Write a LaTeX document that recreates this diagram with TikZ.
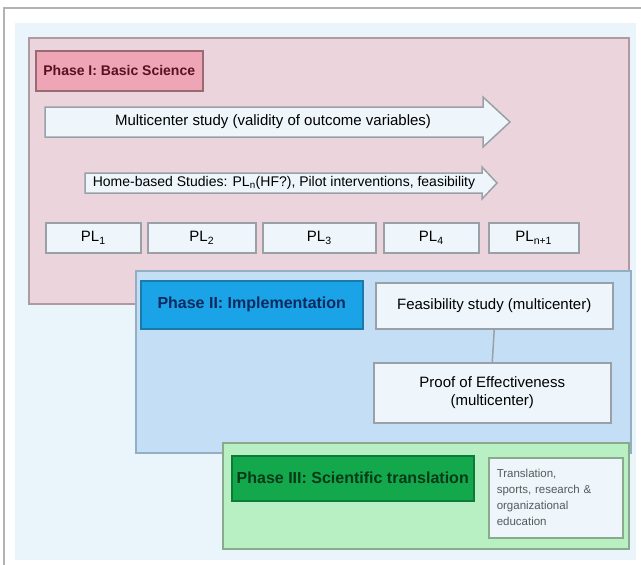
\documentclass[tikz,border=0pt]{standalone}
\usepackage{fontspec}
\setmainfont{Liberation Sans}
\definecolor{bgblue}{HTML}{EAF4FB}
\definecolor{pinkfill}{HTML}{ECD4DC}
\definecolor{pinkline}{HTML}{B09AA2}
\definecolor{h1fill}{HTML}{EEA6B6}
\definecolor{h1line}{HTML}{9A6A74}
\definecolor{h1text}{HTML}{5A1020}
\definecolor{boxfill}{HTML}{EEF6FB}
\definecolor{boxline}{HTML}{9AA0A8}
\definecolor{bluefill}{HTML}{C4DEF5}
\definecolor{blueline}{HTML}{94AEC4}
\definecolor{h2fill}{HTML}{1AA3E6}
\definecolor{h2line}{HTML}{1A7AAA}
\definecolor{h2text}{HTML}{0A2A60}
\definecolor{greenfill}{HTML}{B8F0C4}
\definecolor{greenline}{HTML}{8AAA8E}
\definecolor{h3fill}{HTML}{14A84C}
\definecolor{h3line}{HTML}{0E7A3A}
\definecolor{h3text}{HTML}{053A18}
\begin{document}
\begin{tikzpicture}[x=1pt,y=-1pt,
  bx/.style={rectangle, anchor=north west, inner sep=2pt, line width=1.5pt},
  phasebg/.style={bx},
  header/.style={bx, font=\fontsize{16}{18}\selectfont\bfseries},
  wbox/.style={bx, fill=boxfill, draw=boxline, font=\fontsize{15}{18}\selectfont, align=center},
  arr/.style={fill=boxfill, draw=boxline, line width=1.5pt},
  arrtext/.style={font=\fontsize{15}{18}\selectfont}
]
\useasboundingbox (0,0) rectangle (641,565);
\fill[white] (0,0) rectangle (641,565);
\draw[gray!60, line width=1.2pt] (4,565) -- (4,8) -- (641,8);
\fill[bgblue] (15,23) rectangle (636,560);
% Phase I
\node[phasebg, fill=pinkfill, draw=pinkline, minimum width=600pt, minimum height=266pt] (p1) at (28,37) {};
\node[header, font=\fontsize{14}{16}\selectfont\bfseries, fill=h1fill, draw=h1line, text=h1text, minimum width=167pt, minimum height=40pt] (h1) at (35,50) {Phase I: Basic Science};
\draw[arr] (45,107) -- (483,107) -- (483,97) -- (510,122) -- (483,147) -- (483,137) -- (45,137) -- cycle;
\node[arrtext] (a1) at (273,122) {Multicenter study (validity of outcome variables)};
\draw[arr] (85,173) -- (482,173) -- (482,167) -- (497,183) -- (482,199) -- (482,193) -- (85,193) -- cycle;
\node[arrtext, font=\fontsize{14}{16}\selectfont] (a2) at (284,183) {Home-based Studies: PL\textsubscript{n}(HF?), Pilot interventions, feasibility};
\node[wbox, minimum width=95pt, minimum height=30pt] (pl1) at (45,222) {PL\textsubscript{1}};
\node[wbox, minimum width=108pt, minimum height=30pt] (pl2) at (147,222) {PL\textsubscript{2}};
\node[wbox, minimum width=113pt, minimum height=30pt] (pl3) at (262,222) {PL\textsubscript{3}};
\node[wbox, minimum width=95pt, minimum height=30pt] (pl4) at (383,222) {PL\textsubscript{4}};
\node[wbox, minimum width=90pt, minimum height=30pt] (pl5) at (488,222) {PL\textsubscript{n+1}};
% Phase II
\node[phasebg, fill=bluefill, draw=blueline, minimum width=495pt, minimum height=182pt] (p2) at (135,270) {};
\node[header, fill=h2fill, draw=h2line, text=h2text, minimum width=222pt, minimum height=48pt] (h2) at (140,280) {Phase II: Implementation};
\node[wbox, minimum width=237pt, minimum height=46pt] (feas) at (375,282) {Feasibility study (multicenter)};
\node[wbox, minimum width=237pt, minimum height=60pt] (proof) at (373,362) {Proof of Effectiveness\\(multicenter)};
\draw[boxline, line width=1.5pt] (feas.south) -- (proof.north);
% Phase III
\node[phasebg, fill=greenfill, draw=greenline, minimum width=406pt, minimum height=106pt] (p3) at (222,442) {};
\node[header, fill=h3fill, draw=h3line, text=h3text, minimum width=242pt, minimum height=45pt] (h3) at (231,455) {Phase III: Scientific translation};
\node[bx, fill=boxfill, draw=greenline, minimum width=134pt, minimum height=80pt, inner xsep=8pt, align=left, font=\fontsize{11.5}{16}\selectfont, text=black!65, text width=118pt] (edu) at (488,457) {Translation,\\sports, research \&\\organizational\\education};
\end{tikzpicture}
\end{document}
